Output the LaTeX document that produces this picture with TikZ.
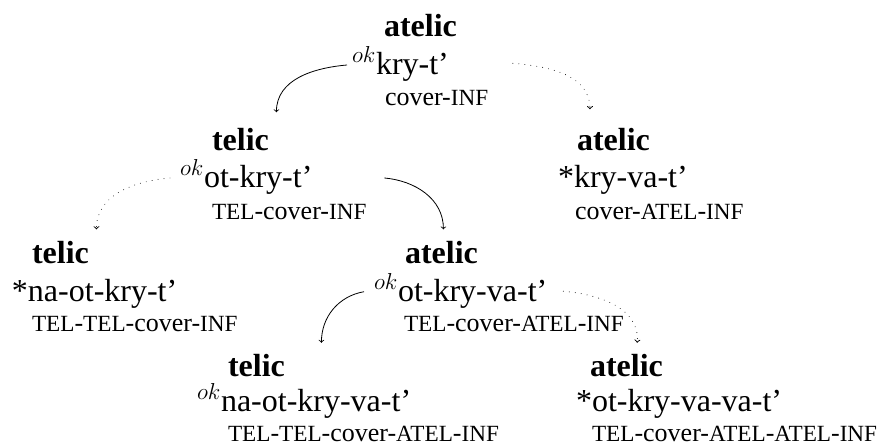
\documentclass[tikz,border=0pt]{standalone}
\usepackage{fontspec}
\setmainfont{Liberation Serif}
\usetikzlibrary{calc}
\newcommand{\gsc}[1]{{\fontsize{17.4}{17.4}\selectfont #1}}
\newcommand{\okp}{$^{ok}$}
\begin{document}
\begin{tikzpicture}[x=0.75pt,y=0.75pt,
  lbl/.style={anchor=base west, inner sep=0pt, outer sep=0pt},
  ttl/.style={lbl, font=\fontsize{24}{24}\selectfont\bfseries},
  frm/.style={lbl, font=\fontsize{24}{24}\selectfont},
  gls/.style={lbl, font=\fontsize{19.5}{19.5}\selectfont},
  solidarr/.style={->, line width=0.6pt},
  dotarr/.style={->, line width=0.7pt, line cap=round, dash pattern=on 0.01pt off 4.5pt}]
\useasboundingbox (0,0) rectangle (882,448);
% A
\node[ttl] (tA) at (384,411) {atelic};
\node[frm] (fA) at (352,373) {\okp kry-t'};
\node[gls] (gA) at (385,342) {cover-\gsc{INF}};
% B
\node[ttl] (tB) at (212,297.5) {telic};
\node[frm] (fB) at (180,260) {\okp ot-kry-t'};
\node[gls] (gB) at (212,228) {\gsc{TEL}-cover-\gsc{INF}};
% C
\node[ttl] (tC) at (577,297.5) {atelic};
\node[frm] (fC) at (558,260) {*kry-va-t'};
\node[gls] (gC) at (575,228) {cover-\gsc{ATEL}-\gsc{INF}};
% D
\node[ttl] (tD) at (32,184) {telic};
\node[frm] (fD) at (12,146.3) {*na-ot-kry-t'};
\node[gls] (gD) at (32,116) {\gsc{TEL}-\gsc{TEL}-cover-\gsc{INF}};
% E
\node[ttl] (tE) at (405,184) {atelic};
\node[frm] (fE) at (374,146.3) {\okp ot-kry-va-t'};
\node[gls] (gE) at (404,116) {\gsc{TEL}-cover-\gsc{ATEL}-\gsc{INF}};
% F
\node[ttl] (tF) at (228,71) {telic};
\node[frm] (fF) at (197,36.3) {\okp na-ot-kry-va-t'};
\node[gls] (gF) at (228,6.3) {\gsc{TEL}-\gsc{TEL}-cover-\gsc{ATEL}-\gsc{INF}};
% G
\node[ttl] (tG) at (590,71) {atelic};
\node[frm] (fG) at (576,36.3) {*ot-kry-va-va-t'};
\node[gls] (gG) at (592,6.3) {\gsc{TEL}-cover-\gsc{ATEL}-\gsc{ATEL}-\gsc{INF}};
% connectors
\draw[solidarr] ($(fA.base west)+(-5,10)$) to[out=185,in=90] ($(tB.north)+(36,16)$);
\draw[dotarr] ($(fA.base east)+(64,11.7)$) to[out=355,in=90] ($(tC.north)+(-23.5,19)$);
\draw[dotarr] ($(fB.base west)+(-10,10)$) to[out=185,in=90] ($(tD.north)+(36,12.4)$);
\draw[solidarr] ($(fB.base east)+(72,10)$) to[out=355,in=90] ($(tE.north)+(2,12.4)$);
\draw[solidarr] ($(fE.base west)+(-10,10)$) to[out=190,in=90] ($(tF.north)+(65,12)$);
\draw[dotarr] ($(fE.base east)+(16,10.5)$) to[out=355,in=85] ($(tG.north)+(10.7,12)$);
\end{tikzpicture}
\end{document}
